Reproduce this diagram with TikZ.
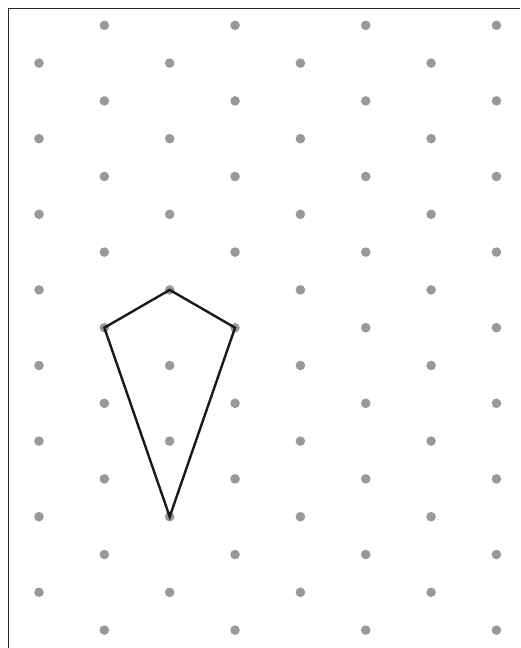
\documentclass[tikz,border=0pt]{standalone}
\begin{document}
\begin{tikzpicture}[x=1pt,y=-1pt,
  dot/.style={fill=gray!80!white,draw=none},
  frame/.style={draw=black!85,line width=1.9pt},
  kite/.style={draw=black!90,line width=2.4pt,line join=miter}]
\useasboundingbox (0,0) rectangle (520,648);
\draw[frame] (8.5,648) -- (8.5,8.5) -- (520,8.5);
\foreach \c in {0,...,7}{
  \foreach \r in {0,...,16}{
    \pgfmathtruncatemacro{\myparity}{mod(\c+\r,2)}
    \ifnum\myparity=1
      \fill[dot] ({39+\c*65.35},{25.3+\r*37.8}) circle (4.8);
    \fi
  }
}
\coordinate (T) at ({39+2*65.35},{25.3+7*37.8});
\coordinate (L) at ({39+1*65.35},{25.3+8*37.8});
\coordinate (R) at ({39+3*65.35},{25.3+8*37.8});
\coordinate (B) at ({39+2*65.35},{25.3+13*37.8});
\draw[kite] (T) -- (R) -- (B) -- (L) -- cycle;
\end{tikzpicture}
\end{document}
